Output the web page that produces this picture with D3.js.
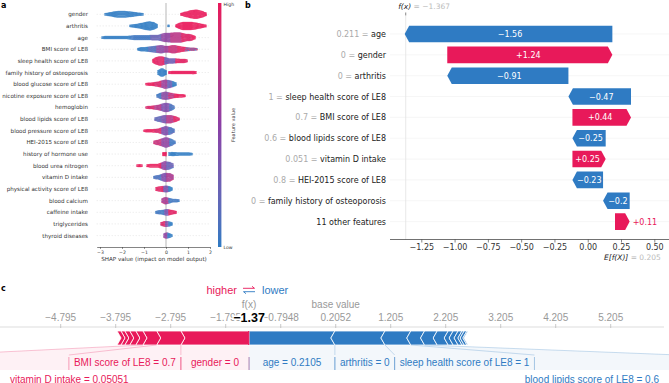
<!DOCTYPE html>
<html>
<head>
<meta charset="utf-8">
<script src="https://cdn.jsdelivr.net/npm/d3@7"></script>
<style>
body { margin: 0; background: #fff; }
svg { display: block; }
</style>
</head>
<body>
<svg width="669" height="383"></svg>
<script>
// panel a: beeswarm summary
const beeFeatures = ['gender', 'arthritis', 'age', 'BMI score of LE8', 'sleep health score of LE8',
    'family history of osteoporosis', 'blood glucose score of LE8', 'nicotine exposure score of LE8',
    'hemoglobin', 'blood lipids score of LE8', 'blood pressure score of LE8', 'HEI-2015 score of LE8',
    'history of hormone use', 'blood urea nitrogen', 'vitamin D intake', 'physical activity score of LE8',
    'blood calcium', 'caffeine intake', 'triglycerides', 'thyroid diseases'];
// clusters of points: [shap from, shap to, half thickness, feature value a, feature value b]
const beeClusters = [
    [[-2.77, -2.5, 1, 0, 0], [-2.5, -2.3, 2, 0, 0], [-2.3, -1.75, 2.7, 0, 0], [-1.75, -1.4, 2, 0, 0], [-1.4, -1.05, 1, 0, 0],
     [0.68, 0.95, 1.5, 1, 1], [0.95, 1.2, 3, 1, 1], [1.2, 1.55, 4, 1, 1], [1.55, 1.82, 2.2, 1, 1]],
    [[-1.64, -1.3, 1, 0, 0], [-1.3, -1.05, 2, 0, 0], [-1.05, -0.85, 3.2, 0, 0], [-0.85, -0.6, 4, 0, 0], [-0.6, -0.42, 2.5, 0, 0],
     [0.08, 0.12, 1, 0, 0], [0.45, 0.65, 1.5, 1, 1], [0.65, 1.25, 3.5, 1, 1], [1.25, 1.55, 2.5, 1, 1], [1.55, 1.82, 1.2, 1, 1]],
    [[-2.9, -1.6, 1, 0, 0], [-1.6, -0.7, 1.8, 0, 0.1], [-0.7, -0.2, 2.2, 0.15, 0.35], [-0.2, 0.25, 4, 0.4, 0.6],
     [0.25, 0.75, 4.5, 0.6, 0.85], [0.75, 1.2, 3, 0.85, 1], [1.2, 1.3, 1.5, 1, 1]],
    [[-1.27, -0.75, 1.5, 0, 0], [-0.75, -0.4, 2.5, 0, 0.3], [-0.4, -0.05, 3.5, 0.35, 0.6], [-0.05, 0.15, 2, 0.5, 0.7],
     [0.15, 0.55, 3.5, 0.7, 0.9], [0.55, 0.9, 2, 0.9, 1], [0.9, 1.4, 1, 1, 0.1]],
    [[-0.58, -0.45, 2, 1, 1], [-0.45, -0.05, 4, 0.9, 1], [-0.05, 0.45, 2, 0.1, 0.5], [0.45, 0.95, 1.5, 1, 0.9]],
    [[-0.35, -0.25, 2, 0, 0], [-0.25, -0.08, 4, 0, 0], [-0.08, 0, 2, 0, 0], [0.15, 1.3, 1, 1, 1], [1.3, 1.35, 1.5, 1, 1]],
    [[-0.9, -0.5, 1, 1, 1], [-0.5, -0.2, 2, 1, 0.8], [-0.2, 0.1, 4, 0.45, 0.7], [0.1, 0.3, 3, 0.1, 0.4], [0.3, 0.45, 1.5, 0, 0]],
    [[-0.4, -0.17, 2, 0, 0.1], [-0.17, 0.12, 3.5, 0.3, 0.6], [0.12, 0.4, 2, 0.9, 0.6], [0.4, 0.88, 1.2, 1, 1]],
    [[-0.9, -0.5, 1, 1, 0.8], [-0.5, -0.17, 2, 0.8, 0.6], [-0.17, 0.2, 4, 0.3, 0.5], [0.2, 0.36, 2, 0, 0.2]],
    [[-0.5, -0.2, 2, 0.1, 0.3], [-0.2, 0.03, 3.5, 0.2, 0.5], [0.03, 0.35, 3.5, 0.8, 0.6], [0.35, 0.6, 1.5, 1, 0.9]],
    [[-1.0, -0.5, 1, 1, 1], [-0.5, -0.17, 1.5, 1, 0.8], [-0.17, 0.15, 4, 0.3, 0.5], [0.15, 0.36, 2.5, 0, 0.2]],
    [[-0.53, -0.2, 2, 0.9, 0.7], [-0.2, 0.2, 4.5, 0.4, 0.6], [0.2, 0.42, 2, 0, 0.1]],
    [[-0.15, 0.02, 2.5, 1, 1], [0.12, 0.4, 1.5, 0, 0], [0.4, 1.18, 1, 0, 0]],
    [[-1.3, -1.1, 1, 1, 1], [-0.85, -0.2, 1.2, 1, 1], [-0.2, 0.05, 4, 0.4, 0.6], [0.05, 0.3, 3, 0.1, 0.4]],
    [[-0.56, -0.17, 1.5, 0, 0.2], [-0.17, 0.05, 4, 0.3, 0.5], [0.05, 0.3, 3.5, 0.5, 0.8]],
    [[-0.44, -0.1, 2, 1, 0.9], [-0.1, 0.15, 3, 0.2, 0.5], [0.15, 0.28, 1.5, 0, 0]],
    [[-0.17, 0.14, 3, 0.5, 0.8], [0.14, 0.6, 1.2, 0, 0.1]],
    [[-0.45, -0.05, 1.5, 0, 0.1], [-0.05, 0.14, 3, 0.2, 0.5], [0.14, 0.44, 1.5, 1, 0.9]],
    [[-0.22, -0.02, 2, 1, 0.8], [-0.02, 0.12, 2.5, 0.3, 0.5], [0.12, 0.29, 1.5, 0, 0]],
    [[-0.1, 0.1, 3, 0.4, 0.6], [0.1, 0.26, 1.2, 0, 0]]
];
const beeTicks = [-3, -2, -1, 0, 1, 2];

// panel b: waterfall
const wfFeatures = ['age', 'gender', 'arthritis', 'sleep health score of LE8', 'BMI score of LE8',
    'blood lipids score of LE8', 'vitamin D intake', 'HEI-2015 score of LE8', 'family history of osteoporosis', '11 other features'];
const wfValues = ['0.211', '0', '0', '1', '0.7', '0.6', '0.051', '0.8', '0', ''];
const wfShap = [-1.56, 1.24, -0.91, -0.47, 0.44, -0.25, 0.25, -0.23, -0.2, 0.11];
const wfBase = 0.205;
const wfFx = -1.367;
const wfTicks = [-1.25, -1.0, -0.75, -0.5, -0.25, 0, 0.25, 0.5];

// panel c: force plot
const forceBase = 0.2052;
const forceFx = -1.37;
const forceTicks = [-4.795, -3.795, -2.795, -1.795, -0.7948, 0.2052, 1.205, 2.205, 3.205, 4.205, 5.205];
const forceRedNames = ['gender = 0', 'BMI score of LE8 = 0.7', 'vitamin D intake = 0.05051', '', '', '', '', ''];
const forceRedShap = [1.24, 0.44, 0.25, 0.13, 0.11, 0.09, 0.07, 0.07];
const forceBlueNames = ['age = 0.2105', 'arthritis = 0', 'sleep health score of LE8 = 1', 'blood lipids score of LE8 = 0.6',
    'HEI-2015 score of LE8 = 0.8', 'family history of osteoporosis = 0', '', '', '', '', '', ''];
const forceBlueShap = [1.56, 0.91, 0.47, 0.25, 0.23, 0.2, 0.09, 0.09, 0.07, 0.04, 0.05, 0.02];

const RED = '#e8195a';
const BLUE = '#2f7bc3';
const colour = d3.scaleLinear().domain([0, 0.5, 1]).range([BLUE, '#8a3fa6', RED]).interpolate(d3.interpolateLab);

const svg = d3.select('svg');

// ---------- a ----------
const a = svg.append('g').attr('font-family', 'DejaVu Sans');
const ax = d3.scaleLinear().domain([-3.15, 2]).range([96.7, 210]);
const ay = d3.scalePoint().domain(beeFeatures).range([14.3, 235.6]);

a.append('text').attr('x', 1).attr('y', 8).attr('font-size', 8).attr('font-weight', 'bold').text('a');

a.selectAll('.grid').data(beeFeatures).enter().append('line')
    .attr('x1', 96.7).attr('x2', 210)
    .attr('y1', d => ay(d)).attr('y2', d => ay(d))
    .attr('stroke', '#ccc').attr('stroke-width', 0.5).attr('stroke-dasharray', '1,2');

a.append('line')
    .attr('x1', ax(0)).attr('x2', ax(0)).attr('y1', 3).attr('y2', 247)
    .attr('stroke', '#c8c8c8').attr('stroke-width', 1.3);

// one column of dots per pixel; thickness softened over a few pixels so the clusters read as swarms
const dots = [];
beeFeatures.forEach((f, i) => {
    const yc = ay(f);
    const cl = beeClusters[i].map(([s0, s1, h, c0, c1]) => ({ x0: ax(s0), x1: ax(s1), h, c0, c1 }));
    const hAt = x => {
        const hit = cl.filter(k => x >= k.x0 - 0.5 && x <= k.x1 + 0.5);
        return hit.length ? d3.max(hit, k => k.h) : 0;
    };
    const xmin = d3.min(cl, k => k.x0), xmax = d3.max(cl, k => k.x1);
    for (let x = Math.round(xmin); x <= Math.round(xmax); x++) {
        const own = cl.filter(k => x >= k.x0 - 0.5 && x <= k.x1 + 0.5);
        if (!own.length) continue;
        const k = own[own.length - 1];
        const h = Math.max(0.6, d3.mean(d3.range(-3, 4), o => hAt(x + o)));
        const n = Math.max(1, Math.round(2 * h) + 1);
        for (let j = 0; j < n; j++) {
            const dy = n === 1 ? 0 : -h + (2 * h * j) / (n - 1);
            dots.push({ x: x, y: yc + dy, c: (x + j) % 2 ? k.c1 : k.c0 });
        }
    }
});
a.append('g').selectAll('circle').data(dots).enter().append('circle')
    .attr('cx', d => d.x).attr('cy', d => d.y).attr('r', 0.75)
    .attr('fill', d => colour(d.c));

a.selectAll('.flabel').data(beeFeatures).enter().append('text')
    .attr('x', 88).attr('y', d => ay(d) + 2)
    .attr('text-anchor', 'end').attr('font-size', 5.6).attr('fill', '#333')
    .text(d => d);

const aAxis = a.append('g').attr('transform', 'translate(0,247)')
    .call(d3.axisBottom(ax).tickValues(beeTicks).tickSize(2).tickSizeOuter(0).tickFormat(d3.format('d')));
aAxis.select('.domain').attr('stroke', '#333').attr('stroke-width', 0.6);
aAxis.selectAll('.tick line').attr('stroke', '#333').attr('stroke-width', 0.5);
aAxis.selectAll('.tick text').attr('font-size', 4.6).attr('font-family', 'DejaVu Sans').attr('fill', '#333').attr('y', 3.5);

a.append('text').attr('x', 154).attr('y', 260.5).attr('text-anchor', 'middle')
    .attr('font-size', 5.6).attr('fill', '#333').text('SHAP value (impact on model output)');

const grad = svg.append('defs').append('linearGradient').attr('id', 'cbar')
    .attr('x1', 0).attr('x2', 0).attr('y1', 0).attr('y2', 1);
d3.range(0, 1.001, 0.1).forEach(t => {
    grad.append('stop').attr('offset', t).attr('stop-color', colour(1 - t));
});
a.append('rect').attr('x', 218).attr('y', 3).attr('width', 3.4).attr('height', 244).attr('fill', 'url(#cbar)');
a.append('text').attr('x', 223.5).attr('y', 6).attr('font-size', 4.6).attr('fill', '#333').text('High');
a.append('text').attr('x', 223.5).attr('y', 249).attr('font-size', 4.6).attr('fill', '#333').text('Low');
a.append('text').attr('transform', 'translate(235,125) rotate(-90)').attr('text-anchor', 'middle')
    .attr('font-size', 5).attr('fill', '#333').text('Feature value');

// ---------- b ----------
const b = svg.append('g').attr('font-family', 'DejaVu Sans');
const bx = d3.scaleLinear().domain([-1.25, 0.5]).range([421.3, 654.3]);
const by = d3.scalePoint().domain(d3.range(wfFeatures.length)).range([34, 221.6]);
const barH = 16.6;

b.append('text').attr('x', 245).attr('y', 8).attr('font-size', 8).attr('font-weight', 'bold').text('b');

b.selectAll('.grid').data(wfFeatures).enter().append('line')
    .attr('x1', 390).attr('x2', 669)
    .attr('y1', (d, i) => by(i)).attr('y2', (d, i) => by(i))
    .attr('stroke', '#f0f0f0').attr('stroke-width', 0.6);

b.append('line').attr('x1', bx(wfFx)).attr('x2', bx(wfFx)).attr('y1', 16).attr('y2', 239.5)
    .attr('stroke', '#e2e2e2').attr('stroke-width', 0.8);
b.append('line').attr('x1', bx(wfFx)).attr('x2', bx(wfFx)).attr('y1', 12.5).attr('y2', 15.5)
    .attr('stroke', '#333').attr('stroke-width', 0.6);

// cumulative from the base value upwards
const steps = [];
let cur = wfBase;
for (let i = wfShap.length - 1; i >= 0; i--) {
    steps[i] = { from: cur, to: cur + wfShap[i], v: wfShap[i] };
    cur += wfShap[i];
}

function arrowBar(x0, x1, yc, h, head) {
    const dir = x1 > x0 ? 1 : -1;
    const hl = Math.min(head, Math.abs(x1 - x0));
    const xb = x1 - dir * hl;
    return [[x0, yc - h / 2], [xb, yc - h / 2], [x1, yc], [xb, yc + h / 2], [x0, yc + h / 2]];
}

const fmt = d3.format('+.2~f');
steps.forEach((s, i) => {
    const x0 = bx(s.from), x1 = bx(s.to), yc = by(i);
    const col = s.v > 0 ? RED : BLUE;
    b.append('polygon')
        .attr('points', arrowBar(x0, x1, yc, barH, 4.5).map(p => p.join(',')).join(' '))
        .attr('fill', col);
    const t = b.append('text').attr('font-size', 8).attr('y', yc + 3).text(fmt(s.v));
    const tw = t.node().getComputedTextLength();
    const w = Math.abs(x1 - x0);
    if (w > tw + 4) {
        t.attr('x', (Math.min(x0, x1) + Math.max(x0, x1)) / 2 + (s.v > 0 ? -1.5 : 1.5))
            .attr('text-anchor', 'middle').attr('fill', '#fff');
    } else {
        t.attr('x', Math.max(x0, x1) + 3).attr('text-anchor', 'start').attr('fill', col);
    }
});

wfFeatures.forEach((f, i) => {
    const t = b.append('text').attr('x', 386).attr('y', by(i) + 3)
        .attr('text-anchor', 'end').attr('font-size', 8);
    if (wfValues[i] !== '') {
        t.append('tspan').attr('fill', '#aaa').text(wfValues[i] + ' = ');
    }
    t.append('tspan').attr('fill', '#222').text(f);
});

const bAxis = b.append('g').attr('transform', 'translate(0,239.5)')
    .call(d3.axisBottom(bx).tickValues(wfTicks).tickSize(3).tickFormat(d3.format('.2f')));
bAxis.select('.domain').remove();
bAxis.selectAll('.tick line').attr('stroke', '#333').attr('stroke-width', 0.6);
bAxis.selectAll('.tick text').attr('font-size', 8).attr('font-family', 'DejaVu Sans').attr('fill', '#333').attr('y', 5);
b.append('line').attr('x1', 390).attr('x2', 669).attr('y1', 239.5).attr('y2', 239.5)
    .attr('stroke', '#333').attr('stroke-width', 0.7);

const fxT = b.append('text').attr('x', bx(wfFx) - 7.5).attr('y', 9).attr('font-size', 7.5);
fxT.append('tspan').attr('fill', '#222').attr('font-style', 'italic').text('f(x)');
fxT.append('tspan').attr('fill', '#bbb').text(' = ' + d3.format('.3f')(wfFx));
const efT = b.append('text').attr('x', bx(wfBase) - 11).attr('y', 259.5).attr('font-size', 7.5);
efT.append('tspan').attr('fill', '#222').attr('font-style', 'italic').text('E[f(X)]');
efT.append('tspan').attr('fill', '#bbb').text(' = ' + d3.format('.3f')(wfBase));

// ---------- c ----------
const c = svg.append('g').attr('font-family', 'Liberation Sans');
const cx = d3.scaleLinear().domain([forceTicks[0], forceTicks[forceTicks.length - 1]]).range([60.7, 610.7]);
const barTop = 331, barBot = 345, barMid = 338, tip = 4;

c.append('text').attr('x', 1).attr('y', 291).attr('font-size', 8).attr('font-weight', 'bold')
    .attr('font-family', 'DejaVu Sans').text('c');

c.append('text').attr('x', 237).attr('y', 294).attr('text-anchor', 'end')
    .attr('font-size', 11).attr('fill', RED).text('higher');
c.append('text').attr('x', 262).attr('y', 294).attr('text-anchor', 'start')
    .attr('font-size', 11).attr('fill', BLUE).text('lower');
c.append('path').attr('d', 'M243,288.3H254.5M252,286.3L254.5,288.3').attr('stroke', RED)
    .attr('stroke-width', 0.9).attr('fill', 'none');
c.append('path').attr('d', 'M255,291.7H243.5M246,293.7L243.5,291.7').attr('stroke', BLUE)
    .attr('stroke-width', 0.9).attr('fill', 'none');

c.append('line').attr('x1', 0).attr('x2', 664).attr('y1', 327).attr('y2', 327)
    .attr('stroke', '#ddd').attr('stroke-width', 1);
c.selectAll('.ftick').data(forceTicks).enter().append('line')
    .attr('x1', d => cx(d)).attr('x2', d => cx(d)).attr('y1', 324).attr('y2', 328)
    .attr('stroke', '#bbb').attr('stroke-width', 0.8);
c.selectAll('.flab').data(forceTicks).enter().append('text')
    .attr('x', d => cx(d)).attr('y', 321).attr('text-anchor', 'middle')
    .attr('font-size', 10).attr('fill', '#999')
    .text(d => d3.format('')(d).replace('-', '\u2212'));

c.append('text').attr('x', cx(forceBase)).attr('y', 307.5).attr('text-anchor', 'middle')
    .attr('font-size', 10).attr('fill', '#999').text('base value');
c.append('text').attr('x', cx(forceFx)).attr('y', 307.5).attr('text-anchor', 'middle')
    .attr('font-size', 10).attr('fill', '#999').text('f(x)');
c.append('text').attr('x', cx(forceFx)).attr('y', 321.5).attr('text-anchor', 'middle')
    .attr('font-size', 12.5).attr('font-weight', 'bold').attr('fill', '#000')
    .attr('stroke', '#fff').attr('stroke-width', 3).attr('paint-order', 'stroke')
    .text(d3.format('.2f')(forceFx));

// segments: red extend left of f(x), blue right
const px = cx(forceFx);
const unit = cx(1) - cx(0);
function segments(vals, dir) {
    let pos = px;
    return vals.map((v, i) => {
        const s = { inner: pos, outer: pos + dir * v * unit, first: i === 0 };
        pos = s.outer;
        return s;
    });
}
const redSegs = segments(forceRedShap, -1);
const blueSegs = segments(forceBlueShap, 1);

function chevron(s, dir) {
    // dir -1: red, arrows point right; dir 1: blue, arrows point left
    const t = -dir * tip;
    const ti = s.first ? 0 : t;
    return [[s.outer, barTop], [s.inner, barTop], [s.inner + ti, barMid], [s.inner, barBot],
        [s.outer, barBot], [s.outer + t, barMid]];
}
c.selectAll('.rseg').data(redSegs).enter().append('polygon')
    .attr('points', d => chevron(d, -1).map(p => p.join(',')).join(' '))
    .attr('fill', RED).attr('stroke', '#fff').attr('stroke-width', 0.8);
c.selectAll('.bseg').data(blueSegs).enter().append('polygon')
    .attr('points', d => chevron(d, 1).map(p => p.join(',')).join(' '))
    .attr('fill', BLUE).attr('stroke', '#fff').attr('stroke-width', 0.8);
// cover the seam at f(x)
c.append('rect').attr('x', px - 1).attr('y', barTop).attr('width', 1.2).attr('height', barBot - barTop).attr('fill', RED);

// labels
const row1 = 366, row2 = 382.5, boxTop = 355, boxBot = 370, pad = 5;
function placeLabels(names, vals, segs, dir, col) {
    let edge = px;
    names.forEach((name, i) => {
        if (!name || vals[i] < 0.245) return;
        const s = segs[i];
        const t = c.append('text').attr('font-size', 10).attr('fill', col).attr('text-anchor', 'middle').text(name);
        const tw = t.node().getComputedTextLength();
        const segW = Math.abs(s.outer - s.inner);
        const bw = Math.max(segW, tw + 2 * pad);
        let b0, b1;
        if (dir > 0) { b0 = Math.max(s.inner, edge); b1 = b0 + bw; edge = b1; }
        else { b1 = Math.min(s.inner, edge); b0 = b1 - bw; edge = b0; }
        const lo = Math.min(s.inner, s.outer), hi = Math.max(s.inner, s.outer);
        c.insert('polygon', 'text')
            .attr('points', [[lo, barBot], [hi, barBot], [b1, boxTop], [b1, boxBot], [b0, boxBot], [b0, boxTop]]
                .map(p => p.join(',')).join(' '))
            .attr('fill', col).attr('fill-opacity', 0.06);
        const outerBar = dir > 0 ? hi : lo, outerBox = dir > 0 ? b1 : b0;
        c.append('line').attr('x1', outerBar).attr('y1', barBot).attr('x2', outerBox).attr('y2', boxTop)
            .attr('stroke', col).attr('stroke-opacity', 0.35).attr('stroke-width', 0.7);
        const overflow = b0 < 15 || b1 > 654;
        if (!overflow) {
            t.attr('x', (b0 + b1) / 2).attr('y', row1);
            [b0, b1].forEach(xx => {
                c.append('line').attr('x1', xx).attr('x2', xx).attr('y1', boxTop + 2).attr('y2', boxBot)
                    .attr('stroke', col).attr('stroke-opacity', 0.5).attr('stroke-width', 0.8);
            });
        } else {
            const x = dir > 0 ? 664 - pad - tw / 2 : 5 + pad + tw / 2;
            t.attr('x', x).attr('y', row2);
        }
    });
}
placeLabels(forceRedNames, forceRedShap, redSegs, -1, RED);
placeLabels(forceBlueNames, forceBlueShap, blueSegs, 1, BLUE);
</script>
</body>
</html>
